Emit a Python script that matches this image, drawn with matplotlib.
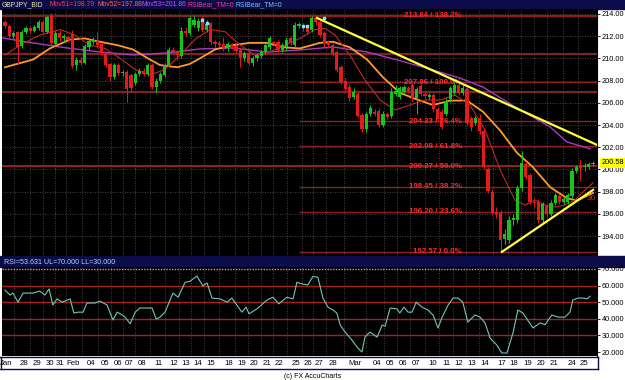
import matplotlib
matplotlib.use("Agg")
import matplotlib.pyplot as plt
from matplotlib.patches import Rectangle

# ---- GBPJPY 8h candles, bar index 0..140 ----
opens = [213.3, 212.9, 212.0, 212.4, 211.1, 212.4, 212.7, 212.5, 212.7, 213.3,
         212.4, 213.8, 211.3, 212.3, 211.8, 211.9, 212.2, 209.4, 209.9, 209.6,
         211.0, 211.5, 211.6, 211.3, 210.4, 209.5, 208.3, 209.4, 208.7, 208.8,
         208.5, 207.8, 208.6, 208.9, 208.6, 209.4, 207.4, 208.0, 208.5, 209.4,
         210.8, 210.6, 210.2, 212.5, 212.3, 213.0, 212.7, 213.6, 212.6, 213.2,
         211.5, 211.4, 211.3, 210.9, 211.2, 211.1, 210.8, 210.0, 210.5, 209.6,
         210.0, 210.2, 210.6, 211.0, 211.5, 211.5, 210.8, 211.0, 211.8, 211.2,
         212.9, 213.0, 212.8, 212.6, 213.6, 213.3, 212.3, 211.5, 211.2, 210.6,
         209.2, 208.0, 207.4, 206.5, 206.8, 204.9, 203.6, 205.0, 205.2, 205.3,
         204.0, 205.0, 204.8, 206.8, 206.5, 207.0, 207.3, 207.6, 206.4, 207.5,
         206.8, 206.5, 206.7, 205.4, 205.2, 205.0, 206.3, 206.9, 207.6, 206.9,
         207.2, 204.6, 204.2, 204.6, 203.5, 200.0, 198.0, 196.2, 196.1, 193.7,
         193.6, 195.4, 195.4, 198.3, 200.5, 199.5, 197.1, 197.1, 195.4, 196.7,
         196.0, 197.0, 197.6, 197.1, 197.1, 197.6, 199.9, 200.3, 200.2, 200.2,
         200.5]
closes = [212.9, 212.0, 212.3, 211.0, 212.4, 212.7, 212.5, 212.8, 213.3, 212.4,
          213.7, 211.4, 212.3, 211.8, 212.0, 211.7, 209.3, 209.9, 209.6, 211.1,
          211.6, 211.7, 211.2, 210.5, 209.4, 208.3, 209.4, 208.7, 208.8, 207.2,
          207.3, 208.6, 208.9, 208.6, 209.4, 207.4, 208.0, 208.6, 209.4, 210.8,
          210.6, 210.3, 212.5, 212.3, 213.6, 213.5, 213.4, 212.6, 213.1, 211.5,
          211.3, 211.2, 210.9, 211.3, 211.1, 210.7, 210.0, 210.5, 209.6, 210.0,
          210.3, 210.6, 211.2, 211.8, 211.4, 210.8, 211.2, 211.7, 211.4, 213.0,
          213.1, 212.7, 212.4, 213.6, 213.3, 212.1, 211.4, 211.2, 210.5, 209.0,
          207.9, 207.2, 206.4, 207.0, 204.8, 203.6, 205.0, 205.5, 205.0, 204.0,
          205.0, 204.7, 207.0, 207.1, 207.3, 207.4, 207.1, 206.4, 207.2, 206.8,
          206.6, 206.7, 205.4, 204.5, 203.8, 206.2, 207.3, 207.6, 206.9, 207.3,
          204.2, 203.8, 204.6, 203.5, 200.2, 198.1, 196.1, 196.0, 193.6, 194.2,
          195.4, 195.6, 198.3, 200.6, 199.3, 197.1, 197.0, 195.4, 196.9, 196.0,
          197.0, 197.7, 197.1, 197.3, 197.7, 199.9, 200.2, 200.1, 200.3, 200.5,
          200.58]
highs = [213.5, 213.1, 212.5, 212.5, 212.6, 212.9, 212.9, 213.0, 213.5, 213.5,
         213.8, 214.1, 212.5, 212.6, 212.2, 212.1, 212.6, 210.1, 210.1, 211.3,
         211.8, 211.9, 212.4, 211.5, 210.5, 209.6, 209.6, 209.6, 209.0, 209.0,
         208.7, 208.8, 209.1, 209.1, 209.6, 209.6, 208.2, 208.8, 209.6, 211.0,
         211.0, 210.8, 212.8, 212.8, 213.8, 213.8, 213.6, 213.8, 213.5, 213.3,
         211.7, 211.6, 211.9, 211.5, 211.4, 211.3, 211.0, 210.7, 210.7, 210.2,
         210.5, 210.8, 211.4, 212.0, 211.6, 211.7, 211.4, 211.9, 212.0, 213.3,
         213.3, 213.2, 213.0, 213.84, 213.84, 213.5, 212.5, 211.7, 211.4, 210.8,
         209.4, 208.2, 207.7, 207.3, 207.0, 205.1, 205.2, 205.8, 205.4, 205.5,
         205.3, 205.2, 207.3, 207.6, 207.5, 207.6, 207.5, 207.8, 207.4, 207.7,
         207.0, 206.9, 206.9, 205.6, 205.4, 206.4, 207.5, 207.9, 207.9, 207.6,
         207.4, 204.8, 204.8, 205.0, 203.7, 200.2, 198.2, 196.6, 196.3, 194.6,
         195.8, 196.0, 198.6, 201.7, 200.8, 199.7, 197.4, 197.3, 197.1, 196.9,
         197.2, 197.9, 197.8, 197.5, 197.9, 200.1, 200.4, 200.9, 200.6, 200.7,
         200.8]
lows = [212.7, 211.8, 211.8, 209.5, 210.9, 212.2, 212.3, 212.4, 212.6, 212.2,
        212.3, 211.2, 211.1, 211.6, 211.5, 211.5, 209.1, 209.0, 209.4, 209.5,
        210.8, 211.3, 211.0, 210.3, 209.2, 208.0, 208.1, 208.5, 208.4, 206.1,
        207.0, 207.6, 208.4, 208.4, 208.4, 207.2, 206.9, 207.8, 208.3, 209.2,
        210.4, 209.9, 210.0, 212.0, 212.1, 212.8, 212.5, 212.4, 212.4, 211.3,
        211.0, 211.0, 210.7, 210.7, 210.9, 210.5, 209.2, 209.8, 209.4, 209.3,
        209.8, 210.0, 210.4, 210.8, 211.2, 210.6, 210.6, 210.8, 211.2, 211.0,
        212.7, 212.5, 212.2, 212.4, 213.0, 211.9, 211.0, 210.9, 210.2, 208.8,
        207.7, 207.0, 206.2, 206.3, 204.6, 203.4, 203.4, 204.8, 204.8, 203.8,
        203.8, 204.5, 204.6, 206.6, 206.3, 206.8, 206.9, 206.2, 205.0, 206.6,
        206.4, 206.3, 205.2, 204.3, 203.6, 204.8, 206.1, 206.7, 206.7, 206.7,
        204.0, 203.5, 204.0, 203.2, 200.0, 197.9, 195.9, 195.6, 192.57, 193.3,
        193.4, 195.0, 195.2, 198.1, 199.1, 196.9, 196.6, 195.2, 195.2, 195.7,
        195.8, 196.8, 196.9, 196.9, 196.9, 197.4, 199.7, 199.0, 199.9, 200.0,
        200.3]

# moving averages (bar index, value)
ma1_idx = [0, 3.6, 8.3, 13.1, 16.7, 20.2, 23.8, 27.4, 31.0, 34.5, 38.1, 41.7, 45.2,
           48.8, 52.4, 56.0, 59.5, 63.1, 66.7, 70.2, 73.8, 76.2, 78.6, 82.1, 85.7,
           89.3, 92.9, 96.4, 100, 103.6, 107.1, 110.7, 114.3, 117.9, 121.4, 123.8,
           126.2, 128.6, 131.0, 133.3, 135.7, 138.1, 140]
ma1_val = [210.3, 211.2, 212.1, 212.6, 212.1, 211.2, 210.9, 210.0, 209.0, 208.5,
           209.0, 210.3, 211.7, 212.6, 212.4, 211.2, 210.3, 210.6, 211.2, 211.8,
           212.6, 212.7, 212.1, 210.3, 208.05, 206.25, 205.35, 205.8, 206.25,
           206.25, 206.7, 205.8, 203.55, 199.95, 197.24, 196.79, 197.24, 196.79,
           196.6, 196.8, 197.24, 198.14, 198.79]
ma2_idx = [0, 6.7, 10.7, 15.5, 19.0, 22.6, 26.7, 30.5, 34.5, 36.9, 41.0, 44.0, 46.4,
           50.0, 54.3, 58.3, 62.4, 66.2, 70.2, 75.0, 78.1, 82.1, 86.2, 90.0, 94.0,
           98.1, 101.9, 106.0, 110.0, 113.8, 117.9, 121.9, 125.7, 129.8, 133.8,
           136.2, 140]
ma2_val = [209.2, 209.9, 210.9, 211.7, 211.8, 211.5, 211.2, 210.8, 209.9, 209.4,
           209.2, 209.5, 210.0, 210.8, 211.2, 211.4, 211.4, 211.0, 210.9, 211.4,
           211.5, 211.0, 209.9, 208.3, 206.9, 206.3, 205.8, 206.2, 206.2, 205.2,
           203.5, 201.5, 200.2, 198.4, 197.4, 197.2, 197.88]
ma3_idx = [-0.5, 6.7, 14.8, 22.6, 30.5, 38.6, 46.4, 54.3, 62.4, 70.2, 78.1, 86.2,
           94.0, 101.9, 108.3, 113.8, 121.9, 129.8, 133.8, 139.3]
ma3_val = [211.84, 211.39, 210.94, 210.58, 210.31, 210.49, 210.85, 210.94, 210.58,
           210.76, 211.03, 210.58, 209.8, 208.95, 208.23, 207.42, 205.53, 203.82,
           202.47, 201.86]

rsi_idx = [0, 1.2, 1.9, 3.1, 4.3, 6.7, 8.3, 9.5, 10.5, 11.4, 12.4, 13.6, 15.5, 16.4,
           17.4, 18.6, 19.5, 21.4, 22.6, 24.3, 25.7, 26.7, 27.9, 28.6, 29.8, 31.0,
           32.1, 33.8, 35.0, 36.0, 36.9, 38.1, 40.0, 41.2, 42.9, 44.0, 45.7, 47.1,
           48.1, 49.3, 51.2, 52.9, 54.0, 56.4, 57.4, 58.1, 60.0, 62.4, 63.8, 65.2,
           67.1, 68.6, 69.5, 70.7, 72.1, 73.3, 74.5, 75.7, 76.9, 78.1, 79.0, 79.8,
           81.0, 82.6, 84.0, 85.0, 85.7, 86.9, 88.6, 89.8, 90.5, 91.7, 93.3, 94.0,
           95.0, 96.0, 96.9, 97.9, 99.3, 100.7, 101.9, 103.1, 104.0, 105.5, 106.7,
           107.9, 109.0, 110.2, 111.9, 113.1, 114.3, 115.5, 117.1, 118.3, 119.5,
           121.0, 122.1, 123.3, 125.7, 127.4, 128.6, 130.2, 131.7, 133.3, 134.5,
           135.2, 136.4, 137.6, 138.6, 139.3]
rsi_val = [57.3, 54.3, 55.5, 50.0, 55.5, 55.5, 56.7, 54.3, 58.0, 48.3, 52.0, 50.0,
           52.0, 43.5, 44.0, 44.0, 49.5, 49.5, 50.7, 48.3, 39.3, 44.0, 42.3, 41.0,
           37.0, 44.0, 46.5, 46.5, 46.5, 39.9, 41.0, 44.0, 55.5, 53.0, 62.0, 62.5,
           65.8, 59.8, 61.6, 52.5, 52.0, 50.0, 52.5, 44.0, 47.0, 43.0, 46.0, 51.3,
           53.0, 49.0, 53.0, 52.0, 62.0, 61.0, 60.4, 65.5, 65.0, 52.5, 47.0, 45.3,
           43.5, 36.3, 32.0, 27.2, 22.4, 20.0, 29.0, 32.0, 29.0, 36.3, 35.5, 46.5,
           46.0, 43.5, 47.0, 44.0, 44.0, 50.0, 47.0, 45.3, 42.3, 34.5, 40.5, 48.3,
           52.5, 52.5, 50.0, 38.0, 42.3, 41.0, 37.5, 28.4, 24.2, 19.4, 19.4, 32.0,
           45.3, 43.5, 34.5, 37.5, 36.5, 42.3, 41.0, 41.0, 44.0, 51.3, 52.5, 52.5,
           52.0, 53.6]

fib_prices = [213.84, 207.86, 204.33, 202.08, 200.27, 198.45, 196.20, 192.57]
fib_pcts = ["138.2%", "100.0%", "76.4%", "61.8%", "50.0%", "38.2%", "23.6%", "0.0%"]
fib_start = 70
level_lines = [210.4, 207.0]
resist_line = ([74.3, 141.0], [213.64, 202.2])
support_line = ([118.3, 140.0], [192.57, 198.15])
bear_idx = [47, 48, 71, 72, 76]
bear_px = [213.5, 213.2, 212.9, 212.9, 213.6]
last_price = 200.58

day_names = ["Jan", "28", "29", "30", "31", "Feb", "04", "05", "06", "07", "08",
             "11", "12", "13", "14", "15", "18", "19", "20", "21", "22", "25", "26",
             "27", "28", "Mar", "04", "05", "06", "07", "10", "11", "12", "13", "14",
             "17", "18", "19", "20", "21", "24", "25"]
day_pos = [0.2, 4.3, 7.6, 10.5, 13.1, 16.0, 20.5, 23.6, 26.7, 29.5, 32.6, 36.4,
           40.0, 42.9, 45.7, 49.0, 53.1, 56.2, 59.3, 62.4, 65.2, 69.3, 72.1, 74.8,
           78.1, 83.3, 88.6, 91.7, 94.8, 97.9, 101.9, 105.0, 108.1, 111.2, 114.3,
           118.3, 121.2, 124.5, 127.6, 130.7, 135.0, 137.9]

NAVY = "#0c0c4a"
RED = "#e41b1b"
GREEN = "#19c419"
GRID = "#5a5a5a"
FONT = ["Liberation Sans", "DejaVu Sans"]
plt.rcParams["font.family"] = FONT

W, H = 625, 380
fig = plt.figure(figsize=(W / 100, H / 100), dpi=100, facecolor="white")


def box(x0, y0, x1, y1):
    return [x0 / W, 1 - y1 / H, (x1 - x0) / W, (y1 - y0) / H]


# header bars
fig.add_artist(Rectangle((0, 1 - 9 / H), 1, 9 / H, transform=fig.transFigure,
                         color=NAVY, zorder=0))
fig.add_artist(Rectangle((0, 1 - 267 / H), 1, 11 / H, transform=fig.transFigure,
                         color=NAVY, zorder=0))
hdr = [("GBPJPY_BID", 2, "#f2eeb0"), ("Mov51=198.79", 49, "#ff3a3a"),
       ("Mov52=197.88", 97, "#ff6a3a"), ("Mov53=201.86", 142, "#c050ff"),
       ("RSIBear_TM=0", 188, "#ff3a6a"), ("RSIBear_TM=0", 235, "#70c8ff")]
for s, px, col in hdr:
    fig.text(px / W, 1 - 4.8 / H, s, color=col, fontsize=4.9, va="center")
fig.text(4 / W, 1 - 262 / H, "RSI=53.631 UL=70.000 LL=30.000", color="#a8d8ff",
         fontsize=5.1, va="center")
fig.text(313 / W, 1 - 376 / H, "(c) FX AccuCharts", color="black", fontsize=5,
         ha="center", va="center")

grid_x = [(a + b) / 2 for a, b in zip(day_pos[:-1], day_pos[1:])]

# ---- price panel ----
ax = fig.add_axes(box(2, 9, 597, 256))
ax.set_facecolor("black")
ax.set_xlim(-0.71, 140.95)
ax.set_ylim(192.20, 214.45)
for gx in grid_x:
    ax.axvline(gx, color=GRID, lw=0.6, ls=(0, (1, 2)), zorder=1)
for gy in range(194, 215, 2):
    ax.axhline(gy, color=GRID, lw=0.6, ls=(0, (1, 2)), zorder=1)
for lv in level_lines + [fib_prices[0]]:
    ax.axhline(lv, color="#7a2424", lw=1.6, zorder=2)
for p, pct in zip(fib_prices, fib_pcts):
    if p == 200.27:
        ax.axhline(p, color="#b82222", lw=1.2, zorder=2)
    else:
        ax.hlines(p, fib_start, 141, color="#8c2020", lw=1.0, zorder=2)
    ax.text(108.8, p, "%.2f / %s" % (p, pct), color="#ff2a2a", fontsize=5.7,
            fontweight="bold", ha="right", va="center", zorder=6)

idx = list(range(len(closes)))
cols = [GREEN if c >= o else RED for o, c in zip(opens, closes)]
ax.vlines(idx, lows, highs, colors=cols, lw=0.7, zorder=4)
ax.bar(idx, [max(abs(c - o), 0.06) for o, c in zip(opens, closes)],
       bottom=[min(o, c) for o, c in zip(opens, closes)], width=0.75,
       color=cols, zorder=4)
ax.scatter(bear_idx, bear_px, marker="s", s=3, color="#80e0ff", zorder=5)

ax.plot(ma3_idx, ma3_val, color="#a43cc8", lw=1.0, zorder=3)
ax.plot(ma2_idx, ma2_val, color="#ff9a30", lw=1.3, zorder=3)
ax.plot(ma1_idx, ma1_val, color="#c02828", lw=0.8, zorder=3)
ax.plot(*resist_line, color="#ffff3c", lw=1.6, zorder=6)
ax.plot(*support_line, color="#ffff3c", lw=1.6, zorder=6)
ax.text(138.6, 197.4, "30", color="#e02020", fontsize=6, va="center", zorder=6)

ax.yaxis.tick_right()
ax.set_yticks(range(194, 215, 2))
ax.set_yticklabels(["%.2f" % v for v in range(194, 215, 2)], fontsize=5.3)
ax.tick_params(axis="y", length=2, width=0.6, pad=1.5, colors="black")
ax.set_xticks([])
for k, sp in ax.spines.items():
    sp.set_visible(k == "right")
ax.spines["right"].set_color("black")
ax.spines["right"].set_linewidth(0.8)
ax.annotate("%.2f" % last_price, xy=(1.0, last_price), xycoords=("axes fraction", "data"),
            xytext=(3, 0), textcoords="offset points", fontsize=5.3, va="center",
            bbox=dict(boxstyle="square,pad=0.15", fc="#ffff00", ec="none"),
            annotation_clip=False)

# ---- RSI panel ----
rx = fig.add_axes(box(2, 267, 597, 356))
rx.set_facecolor("black")
rx.set_xlim(-0.71, 140.95)
rx.set_ylim(17.6, 71.2)
for gx in grid_x:
    rx.axvline(gx, color=GRID, lw=0.6, ls=(0, (1, 2)), zorder=1)
for lv in [30, 40, 50, 60]:
    rx.axhline(lv, color="#a82020", lw=1.0, zorder=2)
rx.axhline(70, color="#d89090", lw=1.0, ls=(0, (1, 1)), zorder=2)
rx.plot(rsi_idx, rsi_val, color="#6cc9b8", lw=0.8, zorder=3)
rx.yaxis.tick_right()
rx.set_yticks(range(20, 71, 10))
rx.set_yticklabels(["%.3f" % v for v in range(20, 71, 10)], fontsize=5.3)
rx.tick_params(axis="y", length=2, width=0.6, pad=1.5, colors="black")
rx.set_xticks([])
for k, sp in rx.spines.items():
    sp.set_visible(k == "right")
rx.spines["right"].set_color("black")

# ---- date strip ----
dx = fig.add_axes(box(0.5, 356.5, 598, 369))
dx.set_facecolor("white")
dx.set_xlim(-1.19, 141.19)
dx.set_ylim(0, 1)
dx.set_xticks([])
dx.set_yticks([])
for sp in dx.spines.values():
    sp.set_color(NAVY)
    sp.set_linewidth(1.0)
for name, pos in zip(day_names, day_pos):
    dx.text(pos, 0.45, name, fontsize=5.6, ha="center", va="center", color="black")

fig.savefig("out.png", dpi=100, facecolor="white")
